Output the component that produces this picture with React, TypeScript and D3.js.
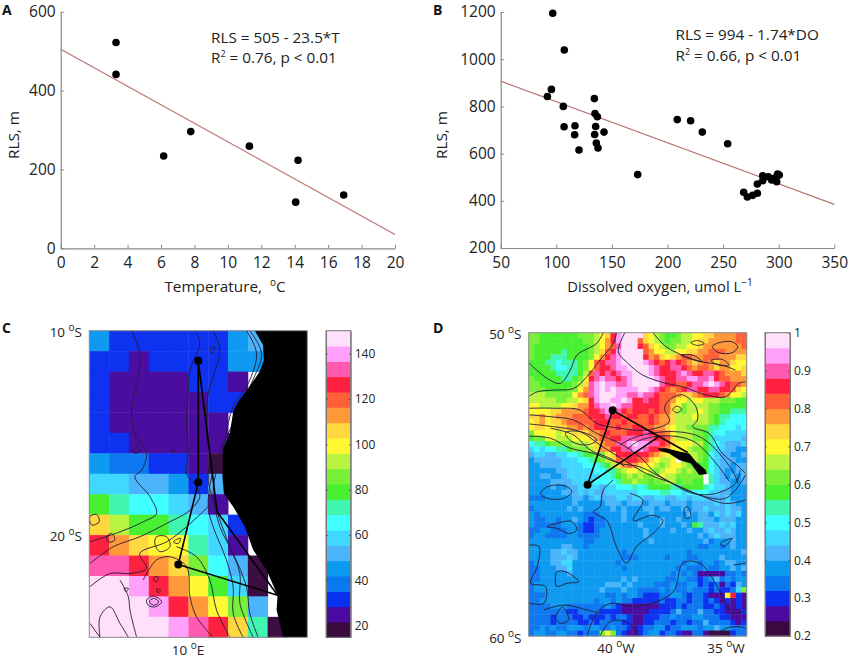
import React, { useEffect, useRef } from 'react';
import * as d3 from 'd3';

// panel A
const tempX = [3.31, 3.31, 6.16, 7.78, 11.29, 14.2, 14.06, 16.93];
const tempY = [522, 441, 234, 296, 259, 223, 117, 135];
const tempFit = [[0, 505], [20, 35]];

// panel B
const doX = [96.8, 107.2, 95.6, 92, 106.3, 107, 116.8, 116.5, 120.4, 134.2, 134.8, 136.9, 135.4, 134.5, 136, 137.5, 142.9, 173.2, 208.8, 220.8, 231.3, 254.1, 268.5, 271.8, 276.6, 280.8, 280.8, 285.6, 285.6, 290.7, 293.7, 298.2, 299, 300.5, 296];
const doY = [1195, 1039, 872, 842, 800, 714, 718, 680, 615, 833, 770, 756, 715, 681, 645, 624, 691, 511, 744, 739, 691, 642, 436, 416, 423, 432, 471, 506, 485, 502, 488, 481, 513, 509, 495];
const doFit = [[50, 907], [350, 385]];

// shared colormap, bottom to top
const palette = ['#3a0a3f', '#4b0aa0', '#0a30f0', '#0a78f0', '#0a9af0', '#4cb4fa', '#40d8ff', '#40ffff', '#40f5b0', '#48f030', '#78f038', '#b8f440', '#fff830', '#ffd840', '#ff9838', '#ff6038', '#ff2040', '#ff5ab0', '#ffa0fa', '#ffe0fa'];

// panel C, RLS on a 1 degree grid, north to south, west to east (null = no data)
const cLons = [5, 6, 7, 8, 9, 10, 11, 12, 13, 14, 15];
const cRows: (number | null)[][] = [
  [45, 32, 32, 32, 32, 32, 32, 45, 52, null],
  [32, 32, 25, 32, 32, 32, 32, 45, 45, null],
  [32, 25, 25, 25, 25, 32, 32, 25, null],
  [32, 25, 25, 25, 25, 25, 32, 32, null],
  [32, 25, 25, 25, 25, 25, 25, null],
  [32, 32, 25, 25, 25, 25, 25, 25],
  [45, 38, 38, 32, 32, 25, 18],
  [59, 59, 52, 52, 45, 32, 52],
  [79, 72, 65, 65, 59, 52, 25, null],
  [106, 93, 79, 79, 72, 65, 59, 32, null],
  [126, 113, 106, 99, 99, 72, 59, 25, null],
  [133, 133, 126, 113, 106, 86, 65, 52, 18, null],
  [147, 147, 140, 126, 113, 99, 79, 59, 18, null],
  [147, 147, 147, 140, 126, 113, 99, 86, 52, null],
  [147, 147, 147, 147, 140, 133, 126, 106, 72, 18],
];
const cCoast = [[13.35, -10], [13.77, -10.7], [13.81, -11.44], [13.6, -12], [13.02, -12.82], [12.51, -13.47], [12.26, -13.96], [12.09, -15.02], [11.76, -15.76], [11.72, -17.14], [11.79, -17.96], [12.26, -18.61], [12.85, -19.59], [13.27, -20.73], [13.94, -21.71], [14.5, -22.94], [14.45, -23.67], [14.78, -25], [16, -25], [16, -10]];
const cStations = [[10.5, -11.47], [10.5, -17.42], [9.49, -21.44]];
const cTracks = [[[10.5, -11.47], [10.5, -17.42], [9.49, -21.44], [14.5, -22.94], [11.45, -18.86], [10.5, -11.47]]];
const cLines = [
  [[7.13, -10], [7.55, -11.11], [7.47, -12.25], [7.13, -13.88], [7.3, -15.02], [7.89, -16], [7.64, -16.82], [7.3, -17.15], [8.06, -18.12], [8.39, -18.94], [7.72, -19.35], [6.55, -19.84], [5.03, -20.33]],
  [[10.33, -10], [10.58, -10.62], [10.08, -11.92], [9.99, -12.9], [9.91, -14.37], [9.99, -16], [9.91, -16.98], [10.41, -17.63], [10.58, -18.12], [10.08, -18.78], [8.9, -19.43], [7.55, -20.08], [6.21, -20.57], [5.03, -21.39]],
  [[11.25, -10], [11.59, -10.95], [11.25, -12.25], [11, -13.07], [10.92, -15.19], [11.08, -16], [11, -17.31], [11.25, -18.29], [11.59, -19.27], [12.09, -20.57], [12.6, -21.88], [12.6, -23.34], [13.27, -25]],
  [[12.93, -10], [13.44, -11.11], [13.02, -12.58], [12.26, -13.72], [11.76, -15.68], [11.42, -16.82], [11.25, -17.96], [11.59, -19.59], [12.26, -20.9], [12.93, -22.53], [13.1, -23.83], [13.52, -25]],
  [[13.1, -10], [13.69, -11.11], [13.18, -12.58], [12.01, -15.02], [11.59, -15.84], [11.17, -17.15], [11, -18.61], [11.25, -19.59], [11.92, -21.22], [12.26, -22.53], [12.26, -23.83], [12.76, -25]],
  [[7.72, -22.2], [8.39, -21.22], [9.07, -21.06], [9.91, -21.55], [10.08, -23.02], [10.41, -24], [11.25, -25]],
  [[9.4, -20.57], [10.41, -21.06], [11.08, -22.2], [11.42, -23.67], [12.09, -25]],
  [[5.03, -22.53], [6.04, -21.88], [7.05, -21.88], [7.89, -21.63], [7.55, -20.9], [8.9, -20.33], [9.91, -19.59], [11, -18.61]],
  [[5.54, -25], [5.54, -24], [6.04, -23.51], [6.55, -24.32], [6.97, -25]],
  [[5.03, -24.32], [5.54, -25]],
  [[6.55, -22.2], [6.97, -23.02], [7.05, -23.67], [7.39, -25]],
];
const cLoops = [
  [[5.03, -19.1], [5.37, -18.99], [5.5, -19.35], [5.12, -19.51]],
  [[5.87, -20.08], [6.13, -19.92], [6.29, -20.24], [5.96, -20.33]],
  [[7.89, -23.18], [8.23, -22.98], [8.65, -23.26], [8.31, -23.51], [7.97, -23.43]],
  [[8.05, -23.2], [8.3, -23.1], [8.5, -23.28], [8.3, -23.42], [8.08, -23.35]],
  [[8.39, -20.08], [8.9, -20.08], [9.07, -20.57], [8.56, -20.81], [8.31, -20.41]],
  [[8.31, -22.04], [8.48, -22.07], [8.4, -22.28], [8.23, -22.2]],
  [[8.39, -22.64], [8.6, -22.69], [8.48, -22.82]],
  [[6.75, -22.61], [6.97, -22.61], [6.86, -22.77]],
  [[7.22, -15.92], [7.42, -15.64], [7.55, -15.87], [7.35, -16]],
  [[9.15, -15.87], [9.33, -15.87], [9.25, -15.97]],
  [[9.24, -20.33], [9.6, -20.16], [9.5, -20.41]],
  [[11.1, -10.85], [11.35, -10.8], [11.2, -11.1]],
];

// panel D, one letter per colour band (a lowest, t highest), '.' = no data
const dRows = [
  'kkjjj jjjjk kklmn qsttt tnmlk jjkll mmnno ooopp',
  'kkjjj jjjjj kklmo qsttt pnmlk jkkll mnnoo ooopp',
  'kjjjj jjjjj jklmo prttt qpnml kkllm mnooo oooop',
  'kjjjj jijjj jklnp qsttt tpomm llmmn noopp poooo',
  'kjjji iijjj jkmoq rsttt tqopn mnopp ooppp ooonn',
  'jjjii hiiij kmpqr rsttt tsrqp qrqpo nopon oonmm',
  'jjjji hhiij kmpqq rsstt ttsrq qrrqp oppon oommn',
  'jjjjj iiiij lprqr qrsst ttsrq qqrsr qqrrq pooon',
  'kjjjj jiijk mqrsr rqrst tttsr qqrrs srrsq ppooo',
  'kkjjj jjjkl nrsts srrst ttttr qqppq rrsts rqppo',
  'kkkjj jjkkm orsts tssss ttsrq popqr rqqrr qqpnm',
  'lllkk kkkmo prstt tssrr srrqp pponn opqqq pomml',
  'lllll kkllm nqstt sstsq qrqqp pomml mmlll kkkjj',
  'mmlll lmmno oqrss tsrrq qqqqp pnmkl lllkk jjjjj',
  'mmmmn noooo pqqrs srqpq qqpqp pnlkl lmlkk jjiii',
  'nnomn ooopp pqqqr qqpqq ppqpo onlll mllkj iihhh',
  'mnomn noppp ppqqq ppqpp ppqpo onlll lllkj ihhhh',
  'mnnmm nnoop opqqp pqppq qppoo nmllk kkkii hhhgh',
  'kmmmm lmmnn noopq pppqq qrqpp omlll kkjih hgggg',
  'jkkmm lllmm mnopp qqrrr rrrqq pnlll kkjig ggggf',
  'hiijk kkkll lmnop prrst ssrrq pnmmm lljih gfffg',
  'ghghh iijkk klnoo qqrrs srqqp ommml kkjig gffee',
  'fggff gghhi jjkkm nqqqq qqpon mlmml lkjhg ffeef',
  'effff fgggh hijkl nppqq ppnml lm.kl lkjhg fffee',
  'eefff fgggg hhhij lnopo nmmlk lmmlk kjjhg ffeff',
  'eeeee ffggg gghhi iklmm lmlkl mmlkl kkjhg feeff',
  'eeffe efggg ggghh ijklk lkklm llkkk kk.ig fefef',
  'eeeef fffgg gghhh hikkl kkjkk lljkk jj.ig ffeef',
  'eeeef eeffg gggfg ghhhi hijjj jiijj jjihg gfeee',
  'eeeee efffg fgffg ggggg hhhhi ihhgh hhhgg ffeee',
  'dddee eeeff efgff fggfg gffgg ffggf gggff fgeee',
  'eeeee eeefe eeeef ffeff fefff efffe ffffg fgfee',
  'deeee eefef eeeee fefee effef feefe ffgff fgffe',
  'edeee eeeee dddee eefee eefee eeeef effeg fgfge',
  'eddee deefe dcdde eefee eeeef eefee efffe fffee',
  'edddd deeed ccdde eeeee feeef eeefe jifff gfgee',
  'ddeed ddeed ccdee eeeee efeee efeef eefgf fgfee',
  'deedd ddeed dddee eeeee efeee eeeee efefg fffee',
  'eeeee eeeee ddeee eeeee eefee eeeee eefde eefee',
  'eeeee effee deeee eeeee eeeee eeeee eddee defee',
  'eeeef fgffe eeeee eedee eeeee eeeed eeeee eeeef',
  'eeeef ffgfe eeeee eeddd eeeee deeed deeee feeee',
  'deeef fggee eeeee edeee eeeee eeede edeed effee',
  'ddeee ffgee eeeee eedee eeeee eeded ddedd eefef',
  'ddeee eefee eeeee eeeee eeeee edede dbbbb bdded',
  'ddeee eeeee eeeee eefef eeeee ddeed dcdef dedee',
  'deeee eeeee eeeef ffefe eeedd dedde ecdcd bdcfe',
  'deeee eeeee eeefe eefee dddde dedde dddcd ccdgk',
  'dddee eeeee eeeed dedee dcccd deedc ddcbb bmqcb',
  'ddeee eeeee eedee deddc ccccd ccddc ddcdc bcbcb',
  'dddde eeddd dddde dcbbb bbbbc ccdcd ddccd cbbcb',
  'ddddd ddccd dddcc ccbbb bbccc cdfdd dfddc cbbbc',
  'ddddc dddcc dcccd cddcb bcccd deddd eeddd ccbbb',
  'ddddc ddddc cdcdd ddccb bccdd dcddc ddfdd ddcbc',
  'ddede ddeee deedd eddcb cddee cddee edeef eeddd',
  'deedd eeddc dddkm kdcbb cdeec ddcbb ddbaa aacdd',
].map(r => r.replace(/ /g, ''));
const dIsland = [[-38.08, -53.81], [-37.7, -53.81], [-37.09, -53.92], [-36.64, -53.98], [-36.33, -54.25], [-35.88, -54.53], [-35.83, -54.66], [-36.18, -54.69], [-36.56, -54.31], [-37.09, -54.2], [-37.55, -53.98], [-38, -53.89]];
const dStations = [[-40.15, -52.56], [-41.3, -55.01]];
const dTracks = [[[-36.71, -53.95], [-40.15, -52.56], [-41.3, -55.01], [-38.08, -53.45]]];
const dLines = [
  [[-43.97, -51.01], [-43.15, -51.51], [-42.55, -51.67], [-42.09, -51.23], [-41.79, -50.74], [-40.88, -50.35], [-40.58, -50]],
  [[-43.97, -52.09], [-43.61, -51.95], [-42.85, -51.89], [-41.94, -51.84], [-41.33, -51.45], [-40.73, -50.9], [-40.12, -50.35], [-39.97, -50]],
  [[-39.59, -50], [-39.89, -50.63], [-39.52, -50.96], [-38.76, -51.4], [-37.7, -51.67], [-36.94, -51.78], [-35.88, -52.05], [-34.97, -52.11], [-34.36, -51.67], [-34.06, -51.62]],
  [[-38.3, -50], [-37.7, -50.46], [-36.79, -50.79], [-36.03, -50.96], [-35.12, -51.07], [-34.52, -51.23]],
  [[-43.97, -52.49], [-42.85, -52.49], [-41.64, -52.55], [-40.88, -52.99], [-39.82, -53.15], [-38.61, -53.21], [-37.55, -52.93], [-37.77, -52.49], [-37.55, -52.22], [-36.94, -52.05], [-36.33, -52.44], [-36.26, -52.88], [-36.48, -53.1], [-35.73, -53.32], [-35.12, -53.98], [-34.36, -54.42], [-34.06, -54.64]],
  [[-43.97, -52.71], [-43, -52.77], [-41.94, -52.88], [-40.88, -53.32], [-39.82, -53.65], [-38.91, -54.09], [-38.15, -54.64], [-37.09, -55.08], [-35.88, -55.41], [-34.97, -55.46], [-34.29, -54.97], [-34.06, -54.69]],
  [[-43.97, -53.01], [-42.85, -53.1], [-41.64, -53.26], [-40.73, -53.7], [-39.52, -54.25], [-38.61, -54.64], [-37.39, -54.97], [-36.18, -55.35], [-34.97, -55.63], [-34.06, -55.52]],
  [[-43.97, -53.41], [-43, -53.48], [-42.09, -53.81], [-41.03, -53.98], [-39.82, -54.31], [-38.91, -54.42], [-37.7, -54.86], [-36.48, -55.3], [-35.42, -55.3], [-34.52, -54.97], [-34.29, -54.53]],
  [[-43, -53.15], [-41.94, -53.37], [-41.18, -53.87], [-40.4, -54.1], [-39.6, -54.4]],
  [[-39.82, -53.7], [-39.06, -53.43], [-37.39, -53.26], [-36.03, -53.48], [-34.67, -54.53], [-34.4, -54.97]],
  [[-39.5, -53.85], [-38.9, -53.55], [-37.6, -53.4], [-36.4, -53.6], [-35.3, -54.4], [-34.8, -54.9]],
  [[-40.12, -54.86], [-40.58, -55.19], [-40.73, -55.74], [-41.03, -55.91], [-40.42, -56.19], [-39.97, -57.06], [-39.52, -57.6], [-39.06, -57.06], [-38.15, -56.52], [-37.85, -56.19], [-38.3, -56.02], [-39.21, -56.19], [-38.76, -55.52], [-39.36, -55.3]],
  [[-43.97, -57], [-43.53, -57.05], [-43.61, -57.71], [-43.91, -58.26], [-43.23, -58.37], [-43.3, -58.92], [-43.97, -58.92]],
  [[-41.33, -60], [-40.88, -59.25], [-40.27, -58.93], [-39.06, -59.03], [-37.39, -58.56], [-36.94, -57.6], [-36.33, -57.55], [-35.88, -57.77], [-35.27, -58.48], [-34.97, -58.92], [-34.67, -59.25], [-34.21, -59.2], [-34.06, -59.14]],
  [[-43.3, -59.14], [-42.38, -58.98], [-41.33, -59.14], [-40.73, -59.25]],
  [[-40.73, -60], [-40.27, -59.53], [-39.52, -59.53], [-38.91, -60]],
  [[-35.42, -60], [-34.97, -59.75], [-34.36, -59.69], [-34.06, -59.75]],
  [[-34.59, -57.66], [-34.06, -57.6]],
];
const dLoops = [
  [[-35.58, -50.46], [-35.27, -50.33], [-34.67, -50.3], [-34.41, -50.46], [-34.67, -50.66], [-35.27, -50.66]],
  [[-36.56, -50.33], [-36.26, -50.26], [-35.95, -50.35], [-36.26, -50.42]],
  [[-35.65, -50.92], [-35.12, -50.88], [-34.82, -51.07], [-35.27, -51.07]],
  [[-37.02, -50.74], [-36.48, -50.74], [-36.03, -50.96], [-36.64, -50.85]],
  [[-37.39, -52.53], [-37.21, -52.42], [-36.98, -52.53], [-37.21, -52.64]],
  [[-42.32, -53.3], [-41.64, -53.26], [-40.88, -53.54], [-41.33, -53.7], [-42.02, -53.59]],
  [[-43.45, -55.3], [-43.15, -55.08], [-42.38, -55.04], [-42.02, -55.24], [-42.38, -55.46], [-43.15, -55.46]],
  [[-43.15, -56.4], [-42.38, -56.23], [-42.02, -56.23], [-41.79, -56.5], [-42.17, -56.62], [-42.7, -56.45]],
  [[-42.77, -58.26], [-42.7, -57.88], [-42.32, -57.88], [-41.71, -58.21], [-42.24, -58.26], [-42.7, -58.37]],
  [[-42.77, -59.42], [-42.45, -59.04], [-42.17, -59.47], [-42.55, -59.58]],
  [[-35.2, -56.95], [-34.67, -56.78], [-35.05, -57.05]],
  [[-36.86, -55.79], [-36.71, -55.74], [-36.56, -56.07], [-36.79, -56.12]],
];

const cBarTicks = [20, 40, 60, 80, 100, 120, 140];
const dBarTicks = [0.2, 0.3, 0.4, 0.5, 0.6, 0.7, 0.8, 0.9, 1];

const font = '"Open Sans", sans-serif';
const ink = '#222';
const axisGray = '#8a8a8a';

const xA = d3.scaleLinear().domain([0, 20]).range([60.7, 395]);
const yA = d3.scaleLinear().domain([0, 600]).range([248.3, 11.7]);
const xB = d3.scaleLinear().domain([50, 350]).range([500.7, 834.3]);
const yB = d3.scaleLinear().domain([200, 1200]).range([248, 12]);

const lonC = d3.scaleLinear().domain([5, 16]).range([89.3, 307.3]);
const latC = d3.scaleLinear().domain([-10, -25]).range([330.7, 637.3]);
const lonD = d3.scaleLinear().domain([-44, -34]).range([528.7, 746.7]);
const latD = d3.scaleLinear().domain([-50, -60]).range([332.7, 636]);

const colorC = d3.scaleQuantize<string>().domain([15, 150]).range(palette);
const colorD = d3.scaleQuantize<string>().domain([0.2, 1]).range(palette);
const barYC = d3.scaleLinear().domain([15, 150]).range([637.3, 330.7]);
const barYD = d3.scaleLinear().domain([0.2, 1]).range([636, 332.7]);

const dCols = d3.range(40).map(i => -44 + i * 0.25);
const dLats = d3.range(56).map(i => -50 - (i * 10) / 56);

function Sup({ children }: { children: string }) {
  return <tspan dy="-6" fontSize="10">{children}</tspan>;
}

function Scatter({ xs, ys, fit, x, y }: any) {
  const line = d3.line().x((d: any) => x(d[0])).y((d: any) => y(d[1]));
  return (
    <g>
      <path d={line(fit) || ''} fill="none" stroke="#b9736e" strokeWidth={1.2} />
      {xs.map((v: number, i: number) => (
        <circle key={i} cx={x(v)} cy={y(ys[i])} r={3.8} fill="#000" />
      ))}
    </g>
  );
}

function MapPanel({ lon, lat, cells, lines, loops, land, tracks, stations }: any) {
  const open = d3.line().x((d: any) => lon(d[0])).y((d: any) => lat(d[1])).curve(d3.curveCatmullRom);
  const closed = d3.line().x((d: any) => lon(d[0])).y((d: any) => lat(d[1])).curve(d3.curveCatmullRomClosed);
  const straight = d3.line().x((d: any) => lon(d[0])).y((d: any) => lat(d[1]));
  const [x0, x1] = lon.range();
  const [y0, y1] = lat.range();
  return (
    <g>
      <g filter="url(#soft)">{cells}</g>
      <g fill="none" stroke="#231c38" strokeWidth={1} strokeOpacity={0.9}>
        {lines.map((l: any, i: number) => <path key={i} d={open(l) || ''} />)}
        {loops.map((l: any, i: number) => <path key={i} d={closed(l) || ''} />)}
      </g>
      <path d={straight(land) + 'Z'} fill="#000" />
      {tracks.map((t: any, i: number) => (
        <path key={i} d={straight(t) || ''} fill="none" stroke="#000" strokeWidth={1.6} />
      ))}
      {stations.map((s: number[], i: number) => (
        <circle key={i} cx={lon(s[0])} cy={lat(s[1])} r={4} fill="#000" />
      ))}
      <rect x={x0} y={y0} width={x1 - x0} height={y1 - y0} fill="none" stroke={axisGray} strokeWidth={1} />
    </g>
  );
}

function ColorBar({ color, y, x0, x1 }: any) {
  return (
    <g>
      {color.range().map((c: string) => {
        const [lo, hi] = color.invertExtent(c);
        return <rect key={c} x={x0} width={x1 - x0} y={y(hi)} height={y(lo) - y(hi) + 0.5} fill={c} />;
      })}
    </g>
  );
}

export default function App() {
  const axesRef = useRef<SVGGElement>(null);

  useEffect(() => {
    if (!axesRef.current) return;
    const root = d3.select(axesRef.current);
    root.selectAll('*').remove();

    const style = (g: any) => {
      g.selectAll('path').attr('stroke', axisGray).attr('stroke-width', 1.2);
      g.selectAll('line').attr('stroke', axisGray).attr('stroke-width', 1);
      g.selectAll('text').attr('fill', ink).style('font-family', font).style('font-size', '15.5px');
    };

    root.append('g').attr('transform', `translate(0,${yA(0)})`)
      .call(d3.axisBottom(xA).tickValues(d3.range(0, 21, 2)).tickSizeInner(-3.5).tickSizeOuter(0).tickPadding(9).tickFormat(d3.format('d') as any))
      .call(style);
    root.append('g').attr('transform', `translate(${xA(0)},0)`)
      .call(d3.axisLeft(yA).tickValues([0, 200, 400, 600]).tickSizeInner(-3.5).tickSizeOuter(0).tickPadding(5))
      .call(style);
    root.append('g').attr('transform', `translate(0,${yB(200)})`)
      .call(d3.axisBottom(xB).tickValues(d3.range(50, 351, 50)).tickSizeInner(-3.5).tickSizeOuter(0).tickPadding(9))
      .call(style);
    root.append('g').attr('transform', `translate(${xB(50)},0)`)
      .call(d3.axisLeft(yB).tickValues(d3.range(200, 1201, 200)).tickSizeInner(-3.5).tickSizeOuter(0).tickPadding(5).tickFormat(d3.format('d') as any))
      .call(style);

    const barAxis = (scale: any, x0: number, x1: number, ticks: number[], fmt: any) => {
      const g = root.append('g').attr('transform', `translate(${x1},0)`)
        .call(d3.axisRight(scale).tickValues(ticks).tickSizeInner(-1.5).tickSizeOuter(0).tickPadding(4).tickFormat(fmt))
        .call(style);
      g.selectAll('line').attr('stroke', '#333');
      g.select('path').attr('stroke', '#777').attr('stroke-width', 1);
      g.selectAll('text').style('font-size', '12px');
      const left = root.append('g').attr('transform', `translate(${x0},0)`)
        .call(d3.axisLeft(scale).tickValues(ticks).tickSizeInner(-1.5).tickSizeOuter(0).tickFormat(() => ''));
      left.selectAll('line').attr('stroke', '#333');
      left.select('path').attr('stroke', '#777').attr('stroke-width', 1);
      root.append('rect').attr('x', x0).attr('y', scale.range()[1]).attr('width', x1 - x0)
        .attr('height', scale.range()[0] - scale.range()[1]).attr('fill', 'none').attr('stroke', '#777');
    };
    barAxis(barYC, 326, 350.7, cBarTicks, d3.format('d'));
    barAxis(barYD, 765, 790, dBarTicks, (d: any) => String(d));
  }, []);

  const cCells = cRows.flatMap((row, r) =>
    row.map((v, c) => v === null ? null : (
      <rect key={`${r}-${c}`} x={lonC(cLons[c])} y={latC(-10 - r)} width={lonC(6) - lonC(5) + 0.4} height={latC(-11) - latC(-10) + 0.4} fill={colorC(v)} />
    )));

  const dCells = dRows.flatMap((row, r) =>
    row.split('').map((ch, c) => {
      if (ch === '.') return null;
      const band = ch.charCodeAt(0) - 97;
      const v = 0.2 + 0.04 * (band + 0.5);
      return <rect key={`${r}-${c}`} x={lonD(dCols[c])} y={latD(dLats[r])} width={lonD(-43.75) - lonD(-44) + 0.4} height={latD(-50 - 10 / 56) - latD(-50) + 0.4} fill={colorD(v)} />;
    }));

  return (
    <svg width={851} height={660} style={{ position: 'absolute', left: 0, top: 0, background: '#fff' }} fontFamily={font} fill={ink}>
      <defs>
        <filter id="soft" x="0" y="0" width="100%" height="100%"><feGaussianBlur stdDeviation="0.35" /></filter>
      </defs>

      <Scatter xs={tempX} ys={tempY} fit={tempFit} x={xA} y={yA} />
      <Scatter xs={doX} ys={doY} fit={doFit} x={xB} y={yB} />

      <MapPanel lon={lonC} lat={latC} cells={cCells} lines={cLines} loops={cLoops} land={cCoast} tracks={cTracks} stations={cStations} />
      <MapPanel lon={lonD} lat={latD} cells={dCells} lines={dLines} loops={dLoops} land={dIsland} tracks={dTracks} stations={dStations} />
      <ColorBar color={colorC} y={barYC} x0={326} x1={350.7} />
      <ColorBar color={colorD} y={barYD} x0={765} x1={790} />

      <g ref={axesRef} />

      <g fontWeight="bold" fontSize="14" fill="#111">
        <text x={2} y={15}>A</text>
        <text x={433} y={15}>B</text>
        <text x={2} y={333}>C</text>
        <text x={433} y={333}>D</text>
      </g>

      <g fontSize="15.3">
        <text x={211} y={43}>RLS = 505 - 23.5*T</text>
        <text x={211} y={63}>R<tspan dy="-6" fontSize="9">2</tspan><tspan dy="6"> = 0.76, p &lt; 0.01</tspan></text>
        <text x={675.5} y={40}>RLS = 994 - 1.74*DO</text>
        <text x={675.5} y={61}>R<tspan dy="-6" fontSize="9">2</tspan><tspan dy="6"> = 0.66, p &lt; 0.01</tspan></text>
        <text transform="translate(19,135) rotate(-90)" textAnchor="middle">RLS, m</text>
        <text transform="translate(447,135) rotate(-90)" textAnchor="middle">RLS, m</text>
        <text x={225} y={292} textAnchor="middle" xmlSpace="preserve">Temperature,  <Sup>o</Sup><tspan dy="6">C</tspan></text>
        <text x={660} y={292} textAnchor="middle" fontSize="14.8">Dissolved oxygen, umol L<Sup>−1</Sup></text>
      </g>

      <g fontSize="13.5">
        <text x={82} y={337} textAnchor="end">10 <Sup>o</Sup><tspan dy="6">S</tspan></text>
        <text x={82} y={541} textAnchor="end">20 <Sup>o</Sup><tspan dy="6">S</tspan></text>
        <text x={188} y={655} textAnchor="middle">10 <Sup>o</Sup><tspan dy="6">E</tspan></text>
        <text x={521.5} y={339} textAnchor="end">50 <Sup>o</Sup><tspan dy="6">S</tspan></text>
        <text x={521.5} y={643} textAnchor="end">60 <Sup>o</Sup><tspan dy="6">S</tspan></text>
        <text x={616} y={653} textAnchor="middle">40 <Sup>o</Sup><tspan dy="6">W</tspan></text>
        <text x={726} y={653} textAnchor="middle">35 <Sup>o</Sup><tspan dy="6">W</tspan></text>
      </g>
    </svg>
  );
}
